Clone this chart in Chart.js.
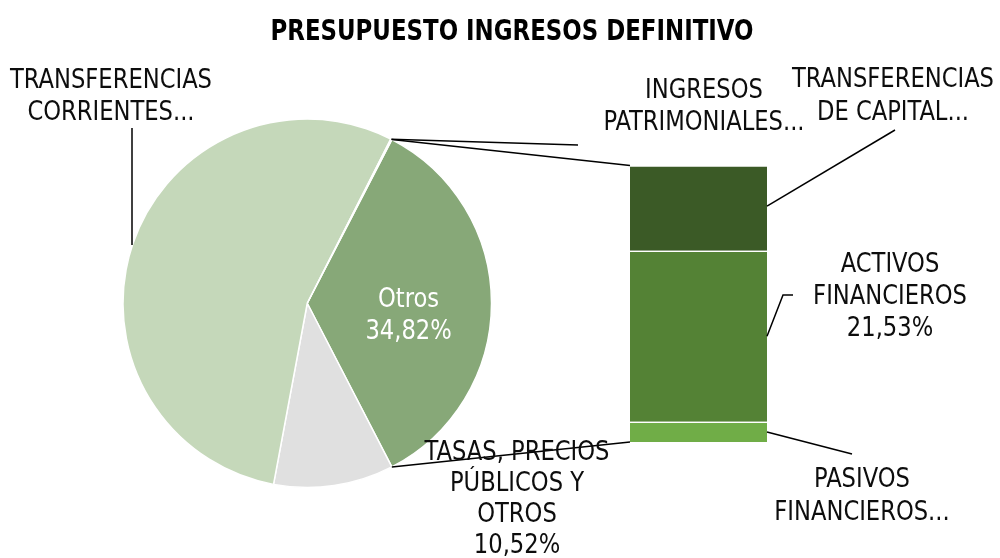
<!DOCTYPE html>
<html><head><meta charset="utf-8">
<script src="https://cdn.jsdelivr.net/npm/chart.js@4.4.0/dist/chart.umd.min.js"></script>
<style>html,body{margin:0;padding:0;background:#fff;overflow:hidden}
#wrap{position:relative;width:1000px;height:558px;background:#fff}
canvas{position:absolute;left:0;top:0}
</style></head><body>
<div id="wrap"><canvas id="bar" width="1000" height="558"></canvas><canvas id="pie" width="1000" height="558"></canvas></div>
<script>
const TITLE = 'PRESUPUESTO INGRESOS DEFINITIVO';
// pie categories (first one aggregates the bar)
const pieCategories = ['Otros', 'TASAS, PRECIOS PÚBLICOS Y OTROS', 'TRANSFERENCIAS CORRIENTES', 'INGRESOS PATRIMONIALES'];
const pieOwnValues = [10.52, 54.56, 0.10];           // tasas, transf. corrientes, ingresos patrimoniales (%)
// bar (breakdown of "Otros"), bottom to top
const barCategories = ['PASIVOS FINANCIEROS', 'ACTIVOS FINANCIEROS', 'TRANSFERENCIAS DE CAPITAL'];
const barValues = [2.54, 21.53, 10.75];
const otrosValue = barValues.reduce((a, b) => a + b, 0);
const pieValues = [otrosValue].concat(pieOwnValues);

const pieColors = ['#87A878', '#E0E0E0', '#C5D8BA', '#D6E3CD'];
const barColors = ['#70AD47', '#548235', '#3B5A26'];

const pct = v => v.toFixed(2).replace('.', ',') + '%';

// ---- font selection ----
function pickFont() {
  const c = document.createElement('canvas').getContext('2d');
  const t = 'TRANSFERENCIAS abcmwi 0123';
  c.font = '40px monospace'; const m = c.measureText(t).width;
  c.font = '40px serif'; const s = c.measureText(t).width;
  const cands = ['Liberation Sans Narrow', 'DejaVu Sans Condensed', 'Roboto', 'Liberation Sans'];
  for (const f of cands) {
    c.font = `40px "${f}", monospace`; const a = c.measureText(t).width;
    c.font = `40px "${f}", serif`; const b = c.measureText(t).width;
    if (a !== m && b !== s) return f;
  }
  return 'sans-serif';
}
const FAMILY = pickFont();
const LABEL_FONT = `27px "${FAMILY}", sans-serif`;
const TITLE_FONT = `bold 28px "${FAMILY}", sans-serif`;
const mctx = document.createElement('canvas').getContext('2d');
mctx.font = LABEL_FONT;
const LSX = 202 / mctx.measureText('TRANSFERENCIAS').width;
mctx.font = TITLE_FONT;
const TSX = 483 / mctx.measureText(TITLE).width;

function text(ctx, str, x, y, font, sx, color) {
  ctx.save();
  ctx.font = font; ctx.fillStyle = color; ctx.textAlign = 'center'; ctx.textBaseline = 'alphabetic';
  ctx.translate(x, y); ctx.scale(sx, 1);
  ctx.fillText(str, 0, 0);
  ctx.restore();
}
function lines(ctx, arr, x, y0, step, color) {
  arr.forEach((s, i) => text(ctx, s, x, y0 + i * step, LABEL_FONT, LSX, color || '#0D0D0D'));
}
function path(ctx, pts) {
  ctx.save();
  ctx.strokeStyle = '#000'; ctx.lineWidth = 1.5;
  ctx.beginPath(); ctx.moveTo(pts[0][0], pts[0][1]);
  for (let i = 1; i < pts.length; i++) ctx.lineTo(pts[i][0], pts[i][1]);
  ctx.stroke(); ctx.restore();
}

// ---- bar chart ----
const barChart = new Chart(document.getElementById('bar'), {
  type: 'bar',
  data: {
    labels: ['Otros'],
    datasets: barCategories.map((c, i) => ({
      label: c, data: [barValues[i]], backgroundColor: barColors[i],
      borderColor: '#FFFFFF', borderWidth: {top: 1.5, bottom: 0, left: 0, right: 0}, borderSkipped: false,
      categoryPercentage: 1, barPercentage: 1
    }))
  },
  options: {
    responsive: false, animation: false,
    layout: {padding: {left: 630, right: 233, top: 165.5, bottom: 116}},
    scales: {
      x: {stacked: true, display: false},
      y: {stacked: true, display: false, min: 0, max: otrosValue}
    },
    plugins: {legend: {display: false}, tooltip: {enabled: false}, title: {display: false}}
  }
});

// ---- overlay plugin: title, labels, leader & connector lines ----
const overlay = {
  id: 'overlay',
  afterDraw(chart) {
    const ctx = chart.ctx;
    const arcs = chart.getDatasetMeta(0).data;
    const otros = arcs[0];
    const cx = otros.x, cy = otros.y, R = otros.outerRadius;
    const pt = a => [cx + R * Math.cos(a), cy + R * Math.sin(a)];

    const topBar = barChart.getDatasetMeta(2).data[0];
    const botBar = barChart.getDatasetMeta(0).data[0];
    const midBar = barChart.getDatasetMeta(1).data[0];
    const barLeft = topBar.x - topBar.width / 2;
    const barRight = topBar.x + topBar.width / 2;

    // connector lines pie -> bar
    const pTop = pt(otros.startAngle), pBot = pt(otros.endAngle);
    path(ctx, [pTop, [barLeft, topBar.y]]);
    path(ctx, [pBot, [barLeft, botBar.base]]);

    // ingresos patrimoniales leader
    const ip = arcs[3];
    const pIp = pt((ip.startAngle + ip.endAngle) / 2);
    path(ctx, [pIp, [578, 145]]);
    // transferencias corrientes leader
    path(ctx, [[132, 245], [132, 128]]);
    // bar leaders
    path(ctx, [[barRight, (topBar.y + topBar.base) / 2 - 2], [895, 130]]);
    path(ctx, [[barRight, (midBar.y + midBar.base) / 2], [783, 295], [793, 295]]);
    path(ctx, [[barRight, (botBar.y + botBar.base) / 2], [852, 454]]);

    // title
    text(ctx, TITLE, 512, 40, TITLE_FONT, TSX, '#000000');

    // labels
    lines(ctx, ['Otros', pct(pieValues[0])], cx + R * 0.55, cy + 4, 32, '#FFFFFF');
    lines(ctx, ['TRANSFERENCIAS', 'CORRIENTES...'], 111, 88, 32);
    lines(ctx, ['INGRESOS', 'PATRIMONIALES...'], 704, 98, 32);
    lines(ctx, ['TRANSFERENCIAS', 'DE CAPITAL...'], 893, 87, 33);
    lines(ctx, ['ACTIVOS', 'FINANCIEROS', pct(barValues[1])], 890, 272, 32);
    lines(ctx, ['PASIVOS', 'FINANCIEROS...'], 862, 487, 33);
    lines(ctx, ['TASAS, PRECIOS', 'PÚBLICOS Y', 'OTROS', pct(pieValues[1])], 517, 460, 31);
  }
};

const ROT = 90 - (otrosValue / pieValues.reduce((a, b) => a + b, 0)) * 180;
new Chart(document.getElementById('pie'), {
  type: 'pie',
  data: {
    labels: pieCategories,
    datasets: [{data: pieValues, backgroundColor: pieColors, borderColor: '#FFFFFF', borderWidth: 1.5}]
  },
  options: {
    responsive: false, animation: false, rotation: ROT,
    layout: {padding: {left: 122.25, right: 507.75, top: 118.25, bottom: 69.75}},
    plugins: {legend: {display: false}, tooltip: {enabled: false}, title: {display: false}}
  },
  plugins: [overlay]
});
</script></body></html>
